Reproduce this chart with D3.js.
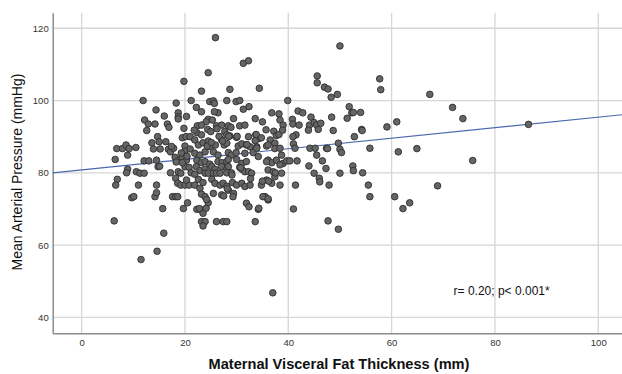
<!DOCTYPE html>
<html>
<head>
<meta charset="utf-8">
<script src="https://cdn.jsdelivr.net/npm/d3@7"></script>
<style>
  html, body { margin: 0; padding: 0; background: #fff; }
  svg { display: block; }
</style>
</head>
<body>
<svg id="chart" width="622" height="374"></svg>
<script>
// ---- data ----
const fatThickness = [
  19.8,11.9,18.3,21.2,14.4,18.7,18.7,18.7,16.0,12.2,12.9,12.6,14.2,16.6,16.9,19.8,14.7,15.0,13.6,16.3,
  19.5,20.2,21.0,6.8,7.9,8.6,9.2,8.9,10.5,13.9,15.2,16.8,17.2,17.8,20.0,20.0,21.0,6.5,12.1,13.0,
  14.5,14.8,18.1,19.0,19.5,20.3,20.0,20.8,8.9,8.7,10.6,11.3,12.1,17.2,18.7,19.2,21.2,6.9,6.6,11.0,
  14.5,18.2,18.6,19.2,20.0,20.8,20.3,9.7,10.1,14.2,14.5,17.6,18.2,18.6,20.5,19.7,15.7,6.3,15.9,14.6,
  11.5,15.1,17.4,18.3,19.3,19.5,20.3,20.4,
  25.9,31.3,32.3,24.5,23.2,28.7,34.4,24.8,25.5,25.7,28.1,29.9,30.6,22.2,31.3,32.4,26.4,25.7,23.2,24.5,
  24.1,25.3,29.4,33.6,35.0,36.8,38.2,22.4,23.2,26.1,27.1,28.4,28.9,30.6,31.6,35.7,22.3,23.2,24.4,25.0,
  27.7,28.1,28.7,30.0,32.3,33.7,34.3,36.5,37.4,21.9,22.6,23.5,24.5,25.0,25.9,27.1,27.6,28.1,30.3,31.0,
  31.9,32.6,33.9,33.6,35.8,21.9,22.9,23.9,25.5,26.4,28.4,29.0,29.9,31.6,33.2,33.9,34.2,36.1,36.8,37.7,
  22.3,23.2,23.9,24.8,26.4,27.2,28.1,28.4,30.0,31.0,31.9,22.2,22.9,23.9,25.2,25.8,27.1,28.1,28.4,30.6,
  31.0,31.6,32.3,32.9,35.8,36.1,37.1,23.9,24.5,25.5,26.1,26.8,28.1,29.0,21.9,22.6,23.5,25.2,25.8,26.8,
  27.4,28.1,29.2,30.0,31.0,31.6,32.6,21.9,22.9,23.2,23.9,24.5,28.4,29.4,34.8,35.8,37.4,36.8,25.5,27.1,
  35.5,36.1,31.9,32.4,34.2,22.3,23.2,23.5,23.2,23.9,23.5,26.1,27.4,28.1,33.6,37.0,
  21.8,24.2,22.8,24.1,26.2,26.6,27.3,27.5,28.2,29.1,29.3,30.1,30.8,32.7,33.8,34.3,34.8,35.0,35.1,36.1,
  36.2,37.2,37.4,37.5,37.7,38.2,32.0,36.1,24.3,25.1,28.5,
  50.0,45.6,45.6,47.0,47.7,48.3,49.5,39.9,41.9,42.8,51.8,52.3,52.6,54.0,51.4,48.4,44.4,40.8,40.9,42.1,
  44.1,45.0,45.5,46.3,43.9,45.8,48.7,54.2,54.3,38.4,39.0,38.9,41.5,40.9,52.8,41.0,41.3,38.4,44.2,45.2,
  47.4,45.5,49.7,50.0,50.3,55.8,38.7,39.0,39.7,40.3,41.7,38.4,44.0,46.6,47.3,52.5,52.6,38.7,45.0,50.0,
  54.4,46.0,46.1,47.9,41.4,38.4,55.5,55.8,41.0,47.7,49.7,47.6,
  57.7,57.9,59.1,60.6,61.0,61.3,62.2,63.5,64.9,67.4,68.9,71.8,73.8,75.7,86.5
];
const arterialPressure = [
  105.3,100.0,99.3,100.0,97.4,96.6,95.5,94.9,95.7,94.6,93.5,91.7,93.5,93.5,92.6,92.3,90.0,88.6,88.3,88.6,
  89.7,90.0,90.0,86.7,86.7,87.7,86.7,84.9,87.0,86.6,86.6,86.5,85.8,86.8,87.4,86.0,86.6,83.7,83.3,83.3,
  83.5,81.7,84.3,83.7,84.3,83.5,81.7,81.5,81.0,80.0,80.3,79.9,79.9,80.0,80.3,79.9,80.0,78.2,76.6,76.6,
  76.6,78.5,77.1,76.6,76.6,76.6,78.0,73.1,73.4,73.4,74.5,73.4,73.4,73.4,71.7,70.1,70.1,66.7,63.3,58.3,
  56.0,81.8,87.3,83.0,85.5,82.8,95.6,84.6,
  117.4,110.3,111.0,107.7,102.6,103.1,103.4,99.7,99.9,99.2,100.0,99.7,100.0,98.1,97.6,98.3,96.6,96.9,96.9,94.8,
  94.1,94.6,95.0,95.0,94.1,96.6,96.3,93.0,93.2,93.0,93.2,93.0,92.6,93.0,93.2,91.9,91.1,90.5,92.0,91.4,
  91.4,90.5,90.2,89.8,90.0,90.5,89.5,89.1,88.2,89.1,87.7,88.3,88.8,87.2,87.7,89.1,87.7,88.2,87.4,88.0,
  87.7,87.2,87.2,88.9,87.4,85.4,84.9,85.8,85.8,84.9,85.6,84.9,85.6,85.4,85.6,86.8,84.5,83.5,82.8,83.5,
  83.5,82.8,83.1,82.4,83.1,82.8,83.1,83.7,83.7,82.6,83.1,81.7,80.6,81.0,81.7,81.0,81.7,81.0,81.7,81.5,
  81.0,80.3,80.3,79.9,83.1,80.8,80.3,79.9,79.9,79.9,79.9,79.9,80.0,80.0,79.6,78.2,77.3,78.2,77.1,76.6,
  77.1,76.3,77.3,76.6,77.1,76.2,76.6,76.6,75.7,74.1,73.4,71.7,75.2,74.3,76.6,78.0,78.9,77.1,74.3,73.9,
  73.4,72.5,71.6,70.6,69.9,69.9,69.7,68.8,66.5,66.5,65.3,66.5,66.5,66.5,66.5,46.8,
  91.8,72.6,70.1,70.2,92.2,90.1,88.8,73.6,75.6,79.4,73.4,90.1,81.4,78.4,90.6,70.2,89.7,77.7,73.4,72.8,
  77.7,91.5,86.7,80.0,90.3,90.6,87.8,87.7,87.4,88.4,90.1,
  115.1,106.8,104.9,103.7,103.2,100.9,101.7,100.0,97.1,96.6,98.3,96.6,96.7,96.7,95.1,95.4,95.4,94.8,93.5,93.2,
  93.2,93.9,93.2,93.7,91.8,92.0,91.7,92.0,91.7,94.6,93.2,91.8,90.5,90.0,90.0,88.0,86.8,86.8,86.8,86.8,
  86.8,84.9,88.2,86.5,85.6,86.8,84.9,82.6,83.3,83.3,83.3,82.2,81.9,83.3,81.2,81.9,80.6,79.9,79.9,79.9,
  80.0,78.5,77.5,76.6,76.6,76.6,76.6,73.4,70.0,66.7,64.4,86.7,
  106.0,103.0,92.7,73.4,94.1,85.8,70.1,71.7,86.7,101.7,76.4,98.1,95.0,83.4,93.4
];
// fitted line as drawn (intercept, slope)
const fitIntercept = 80.8;
const fitSlope = 0.146;
const xTicks = [0, 20, 40, 60, 80, 100];
const yTicks = [40, 60, 80, 100, 120];
const xTitle = "Maternal Visceral Fat Thickness (mm)";
const yTitle = "Mean Arterial Pressure (mmHg)";
const note = "r= 0.20; p< 0.001*";

// ---- layout ----
const W = 622, H = 374;
const L = 52.7, R = 622, T = 12.7, B = 333.3;
const xDomain = [-5.6, 104.6];
const yDomain = [35.6, 124.3];
const FONT = "Liberation Sans, Arial, sans-serif";

const svg = d3.select("#chart");
const x = d3.scaleLinear().domain(xDomain).range([L, R]);
const y = d3.scaleLinear().domain(yDomain).range([B, T]);

const points = fatThickness.map((v, i) => ({ x: v, y: arterialPressure[i] }));

// grid
const grid = svg.append("g");
grid.selectAll("line.v").data(xTicks).join("line")
  .attr("x1", d => x(d)).attr("x2", d => x(d))
  .attr("y1", T).attr("y2", B)
  .attr("stroke", "#d6d6d6").attr("stroke-width", 1.3);
grid.selectAll("line.h").data(yTicks).join("line")
  .attr("x1", L).attr("x2", R)
  .attr("y1", d => y(d)).attr("y2", d => y(d))
  .attr("stroke", "#d6d6d6").attr("stroke-width", 1.3);

// axes
const xAxis = d3.axisBottom(x).tickValues(xTicks).tickSize(0).tickPadding(6);
const yAxis = d3.axisLeft(y).tickValues(yTicks).tickSize(0).tickPadding(4);
const gx = svg.append("g").attr("transform", `translate(0,${B})`).call(xAxis);
const gy = svg.append("g").attr("transform", `translate(${L},0)`).call(yAxis);
[gx, gy].forEach(g => {
  g.select(".domain").attr("stroke", "#8c8c8c").attr("stroke-width", 1.5);
  g.selectAll("text").attr("font-family", FONT)
    .attr("font-size", 9.5).attr("fill", "#333");
});

// fit line
svg.append("line")
  .attr("x1", x(xDomain[0])).attr("y1", y(fitIntercept + fitSlope * xDomain[0]))
  .attr("x2", x(xDomain[1])).attr("y2", y(fitIntercept + fitSlope * xDomain[1]))
  .attr("stroke", "#4a68ad").attr("stroke-width", 1.1);

// points
svg.append("g").selectAll("circle").data(points).join("circle")
  .attr("cx", d => x(d.x)).attr("cy", d => y(d.y)).attr("r", 3.3)
  .attr("fill", "#656565").attr("stroke", "#2e2e2e").attr("stroke-width", 0.9);

// annotation
svg.append("text")
  .attr("x", x(72)).attr("y", y(47.3)).attr("dy", "0.35em")
  .attr("font-family", FONT).attr("font-size", 12)
  .attr("fill", "#111").text(note);

// titles
svg.append("text")
  .attr("x", 339).attr("y", 369).attr("text-anchor", "middle")
  .attr("font-family", FONT).attr("font-size", 14.6)
  .attr("font-weight", "bold").attr("fill", "#111").text(xTitle);
svg.append("text")
  .attr("transform", `translate(22,172) rotate(-90)`).attr("text-anchor", "middle")
  .attr("font-family", FONT).attr("font-size", 14)
  .attr("fill", "#111").text(yTitle);
</script>
</body>
</html>
